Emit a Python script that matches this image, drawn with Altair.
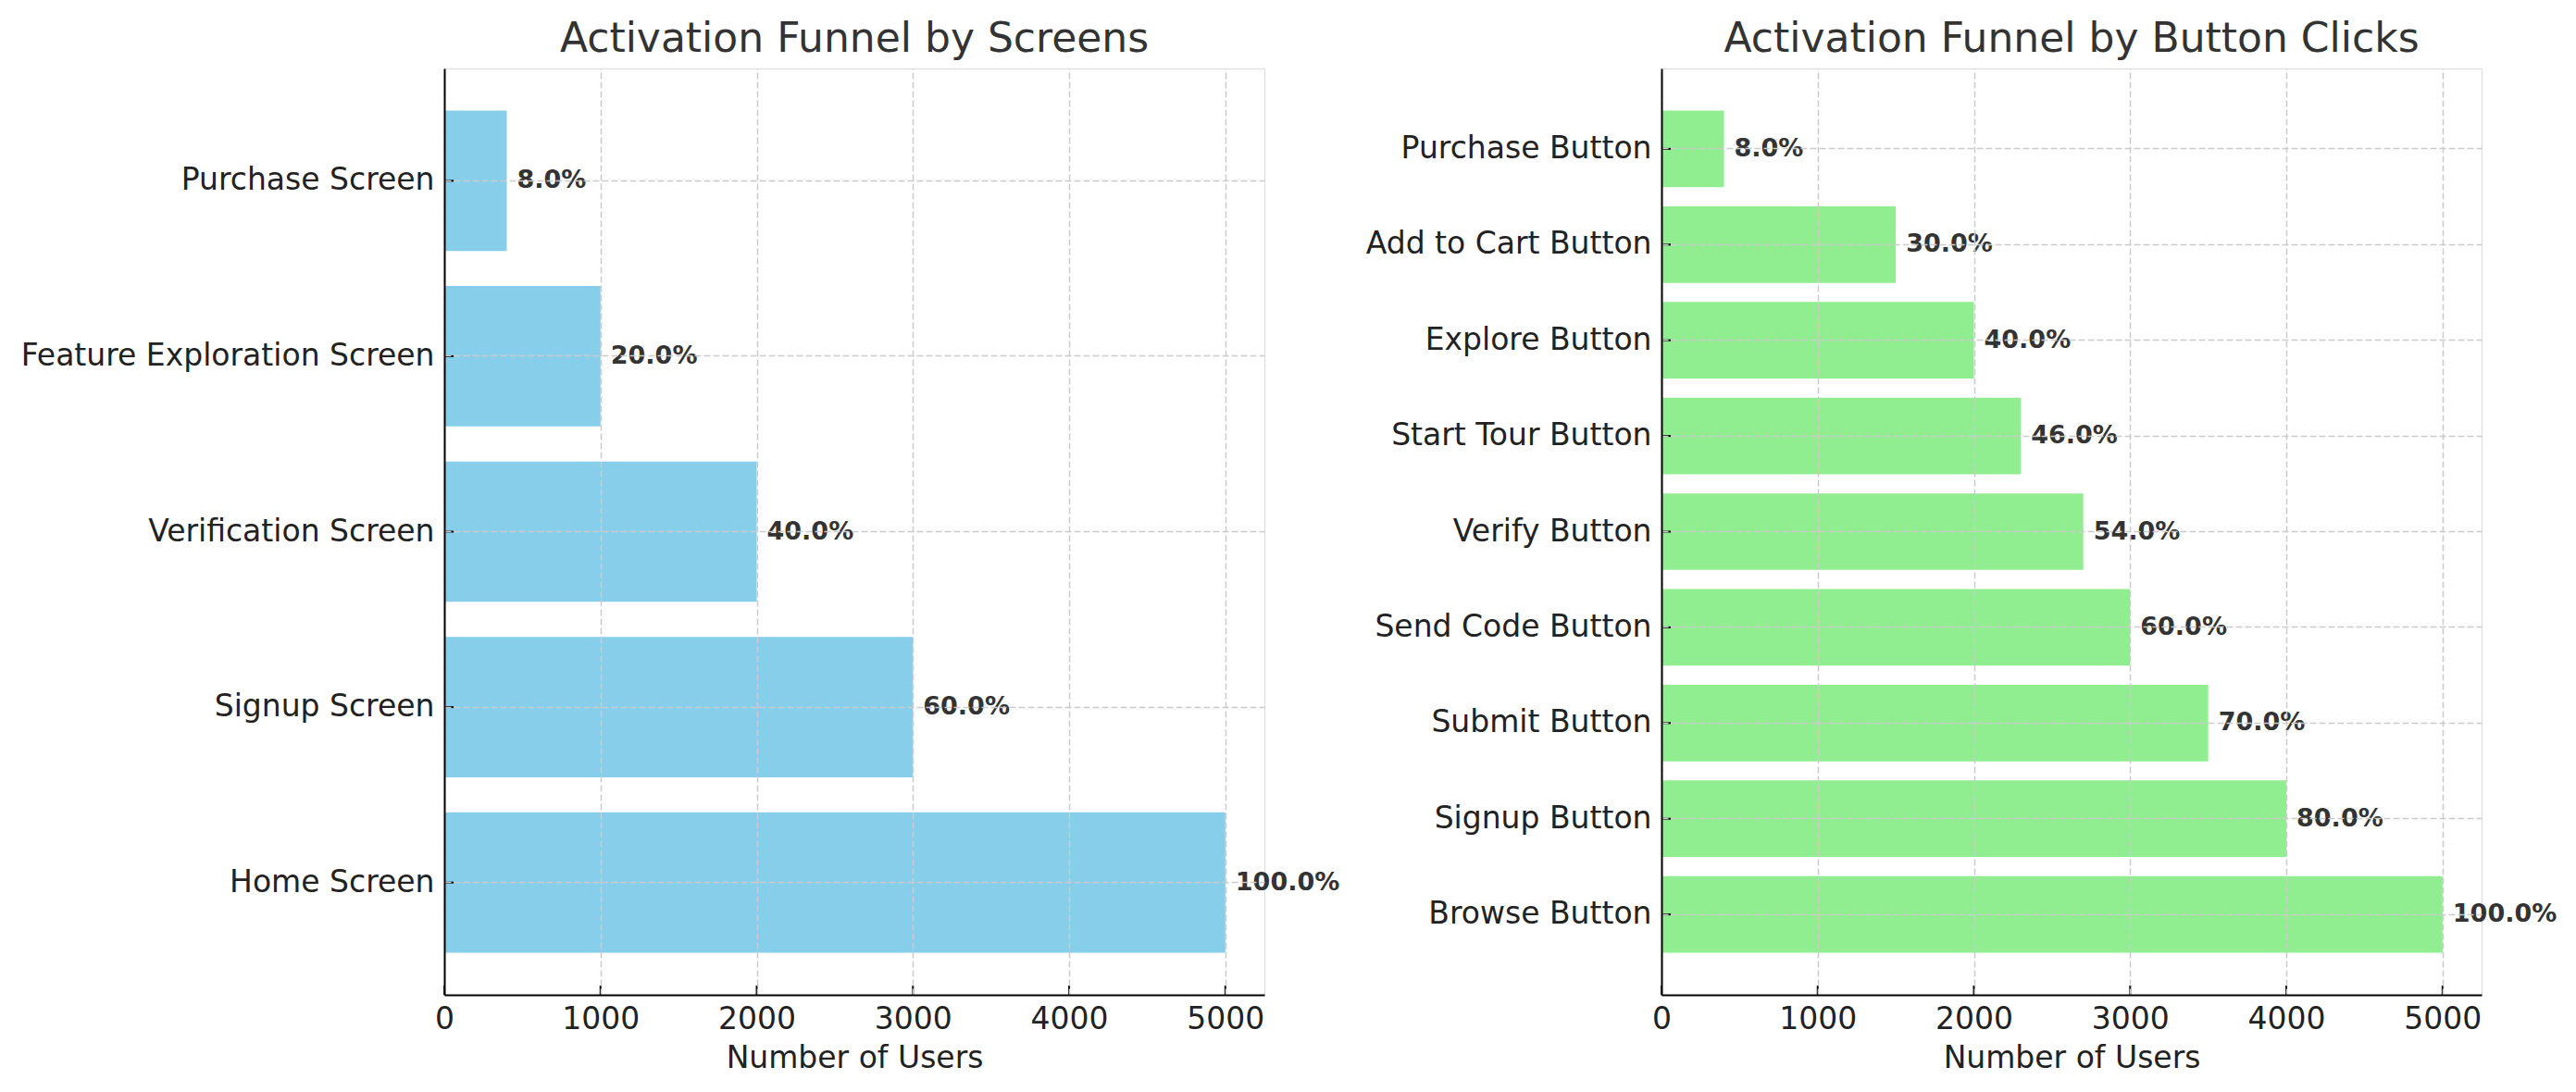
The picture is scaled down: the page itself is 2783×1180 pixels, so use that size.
import altair as alt
import pandas as pd

# ---- data ----
screen_stages = ["Home Screen", "Signup Screen", "Verification Screen",
                 "Feature Exploration Screen", "Purchase Screen"]
screen_users = [5000, 3000, 2000, 1000, 400]

button_stages = ["Browse Button", "Signup Button", "Submit Button", "Send Code Button",
                 "Verify Button", "Start Tour Button", "Explore Button",
                 "Add to Cart Button", "Purchase Button"]
button_users = [5000, 4000, 3500, 3000, 2700, 2300, 2000, 1500, 400]

x_ticks = [0, 1000, 2000, 3000, 4000, 5000]

W = 886
H = 1001
FONT = "DejaVu Sans"
GRID = "#cbcbcb"


def panel(stages, users, color, title, pad_outer):
    df = pd.DataFrame({
        "stage": stages,
        "users": users,
        "pct": [f"{u / users[0] * 100:.1f}%" for u in users],
    })
    order = stages[::-1]
    yscale = alt.Scale(paddingInner=0.2, paddingOuter=pad_outer)
    xscale = alt.Scale(domain=[0, 5250], nice=False, zero=True)
    y = alt.Y("stage:N", sort=order, scale=yscale,
              axis=alt.Axis(title=None, grid=True, gridDash=[7, 3], gridColor=GRID,
                            gridWidth=1.5, bandPosition=0.5, ticks=False,
                            labelPadding=11, labelFontSize=33, labelColor="#222222",
                            labelFont=FONT, labelLimit=0,
                            domainColor="black", domainWidth=2, zindex=1))
    x = alt.X("users:Q", scale=xscale,
              axis=alt.Axis(values=x_ticks, title="Number of Users", grid=True,
                            gridDash=[7, 3], gridColor=GRID, gridWidth=1.5,
                            ticks=False, labelPadding=10, labelFontSize=33,
                            labelFlush=False, labelOverlap=False,
                            labelColor="#222222", labelFont=FONT, format="d",
                            titleFontSize=33, titleFont=FONT, titleFontWeight="normal",
                            titleColor="#222222", titlePadding=9,
                            domainColor="black", domainWidth=2, zindex=1))
    base = alt.Chart(df)
    bars = base.mark_bar(color=color).encode(x=x, y=y)
    text = base.mark_text(align="left", baseline="middle", dx=11, fontSize=27,
                          fontWeight="bold", color="#333333", font=FONT).encode(
        x=alt.X("users:Q"), y=alt.Y("stage:N", sort=order), text="pct:N")
    yticks = base.mark_rule(color="black", strokeWidth=2).encode(
        y=alt.Y("stage:N", sort=order), x=alt.value(0), x2=alt.value(10))
    xticks = alt.Chart(pd.DataFrame({"t": x_ticks})).mark_rule(
        color="black", strokeWidth=2).encode(
        x=alt.X("t:Q"), y=alt.value(H), y2=alt.value(H - 10))
    return alt.layer(bars, text, yticks, xticks).properties(
        width=W, height=H,
        title=alt.TitleParams(title, fontSize=44, color="#333333", font=FONT,
                              fontWeight="normal", anchor="middle", offset=9))


left = panel(screen_stages, screen_users, "#87CEEB",
             "Activation Funnel by Screens", 0.24)
right = panel(button_stages, button_users, "#90EE90",
              "Activation Funnel by Button Clicks", 0.44)

chart = alt.hconcat(left, right, spacing=429, bounds="flush").properties(
    padding={"left": 13, "top": 12, "right": 5, "bottom": 5}
).configure_view(stroke=None).configure(background="white")

chart.save("out.html", embed_options={"renderer": "svg", "actions": False})
